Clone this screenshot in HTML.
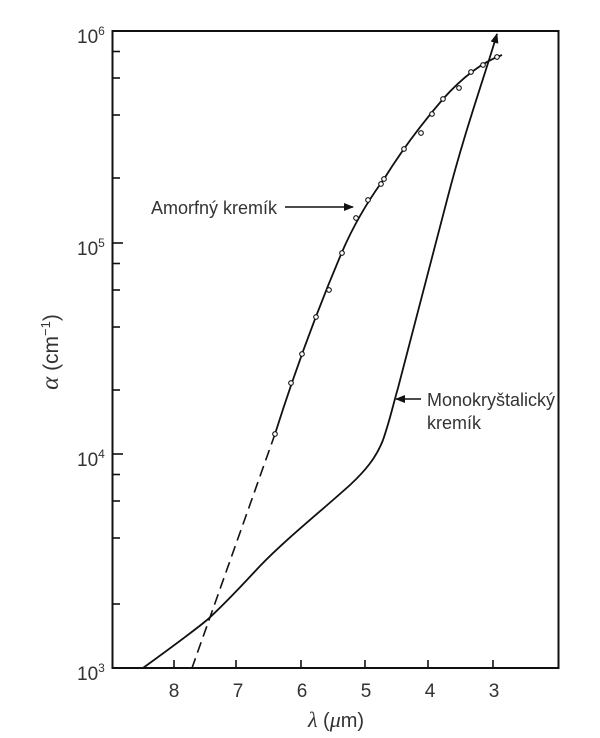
<!DOCTYPE html>
<html><head><meta charset="utf-8"><style>
body{margin:0;background:#fff;}
svg{display:block;}
text{font-family:"Liberation Sans",sans-serif;fill:#333;}
</style></head><body>
<svg width="600" height="738" viewBox="0 0 600 738" xmlns="http://www.w3.org/2000/svg">
<defs><marker id="ah" markerWidth="10" markerHeight="8" refX="9" refY="4" orient="auto" markerUnits="userSpaceOnUse"><path d="M0,0 L10,4 L0,8 Z" fill="#111"/></marker></defs>
<rect x="112.5" y="31" width="446" height="637" fill="none" stroke="#111" stroke-width="2"/>
<g stroke="#111" stroke-width="1.6">
<line x1="112" y1="243" x2="123" y2="243"/><line x1="112" y1="454" x2="123" y2="454"/>
<line x1="112" y1="51.5" x2="120" y2="51.5"/><line x1="112" y1="78" x2="120" y2="78"/><line x1="112" y1="115" x2="120" y2="115"/><line x1="112" y1="178" x2="120" y2="178"/>
<line x1="112" y1="263.5" x2="120" y2="263.5"/><line x1="112" y1="290" x2="120" y2="290"/><line x1="112" y1="327" x2="120" y2="327"/><line x1="112" y1="390" x2="120" y2="390"/>
<line x1="112" y1="474.5" x2="120" y2="474.5"/><line x1="112" y1="501" x2="120" y2="501"/><line x1="112" y1="538" x2="120" y2="538"/><line x1="112" y1="604" x2="120" y2="604"/>
<line x1="174" y1="668" x2="174" y2="660"/><line x1="236" y1="668" x2="236" y2="660"/><line x1="301" y1="668" x2="301" y2="660"/><line x1="365" y1="668" x2="365" y2="660"/><line x1="428" y1="668" x2="428" y2="660"/><line x1="493" y1="668" x2="493" y2="660"/>
</g>
<g font-size="19">
<text x="77" y="43">10<tspan font-size="12" dy="-8">6</tspan></text>
<text x="77" y="255">10<tspan font-size="12" dy="-8">5</tspan></text>
<text x="77" y="466">10<tspan font-size="12" dy="-8">4</tspan></text>
<text x="77" y="680">10<tspan font-size="12" dy="-8">3</tspan></text>
<g text-anchor="middle">
<text x="174" y="697">8</text><text x="238" y="697">7</text><text x="302" y="697">6</text><text x="366" y="697">5</text><text x="430" y="697">4</text><text x="494" y="697">3</text>
<text x="336" y="727" font-size="20"><tspan font-family="Liberation Serif" font-style="italic" font-size="22">λ</tspan> (<tspan font-family="Liberation Serif" font-style="italic" font-size="22">μ</tspan>m)</text>
</g>
<text transform="translate(58,352) rotate(-90)" text-anchor="middle" font-size="21"><tspan font-family="Liberation Serif" font-style="italic" font-size="25">α</tspan> (cm<tspan font-size="13" dy="-8">−1</tspan><tspan dy="8">)</tspan></text>
<text x="151" y="214" font-size="18">Amorfný kremík</text>
<text x="427" y="406" font-size="18">Monokryštalický</text>
<text x="427" y="429" font-size="18">kremík</text>
</g>
<line x1="285" y1="207" x2="353" y2="207" stroke="#111" stroke-width="1.5" marker-end="url(#ah)"/>
<line x1="421" y1="399" x2="396" y2="399" stroke="#111" stroke-width="1.5" marker-end="url(#ah)"/>
<path d="M143,668 C165,652 190,634 207,620 C225,604 245,582 260,566 C285,540 320,512 350,485 C365,471 376,458 383,440 C390,420 393,405 398,388 L447,200 C465,130 485,75 497,34" fill="none" stroke="#111" stroke-width="1.8" marker-end="url(#ah)"/>
<path d="M502,55 C480,63 460,80 443,99 C425,120 405,145 384,179 C370,198 355,222 342,252 C325,292 300,355 275,434" fill="none" stroke="#111" stroke-width="1.8"/>
<path d="M275,434 L192,668" fill="none" stroke="#111" stroke-width="1.6" stroke-dasharray="11,6"/>
<g fill="#fff" stroke="#111" stroke-width="1.1">
<circle cx="497" cy="57" r="2.3"/><circle cx="483" cy="65" r="2.3"/><circle cx="471" cy="72" r="2.3"/><circle cx="459" cy="88" r="2.3"/><circle cx="443" cy="99" r="2.3"/><circle cx="432" cy="114" r="2.3"/><circle cx="421" cy="133" r="2.3"/><circle cx="404" cy="149" r="2.3"/><circle cx="384" cy="179" r="2.3"/><circle cx="381" cy="184" r="2.3"/><circle cx="368" cy="200" r="2.3"/><circle cx="356" cy="218" r="2.3"/><circle cx="342" cy="253" r="2.3"/><circle cx="329" cy="290" r="2.3"/><circle cx="316" cy="317" r="2.3"/><circle cx="302" cy="354" r="2.3"/><circle cx="291" cy="383" r="2.3"/><circle cx="275" cy="434" r="2.3"/>
</g>
</svg>
</body></html>
